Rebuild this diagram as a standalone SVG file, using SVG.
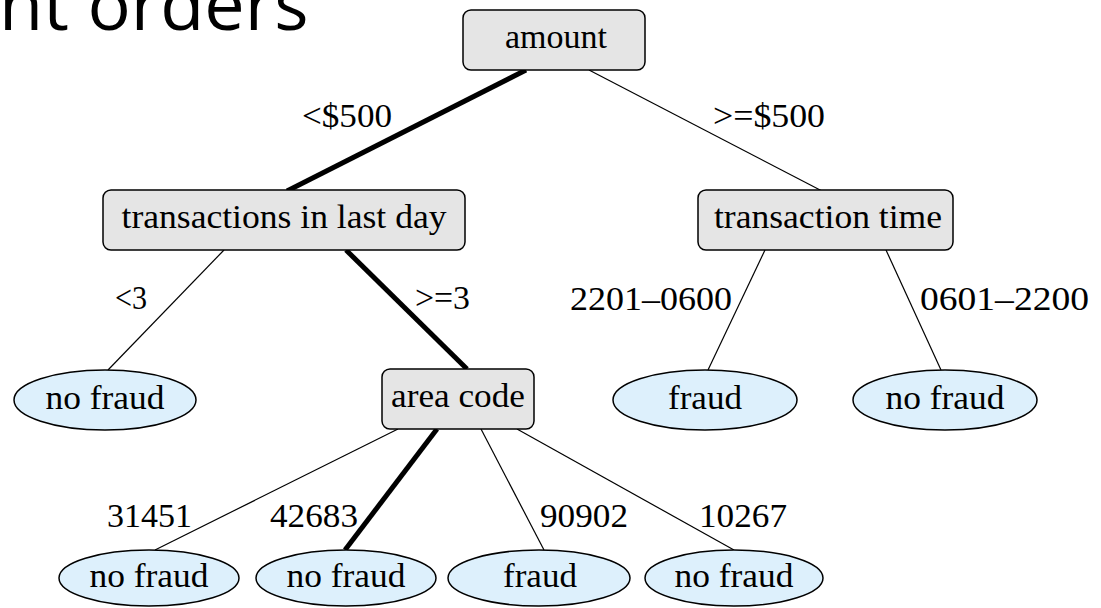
<svg xmlns="http://www.w3.org/2000/svg" width="1101" height="608" viewBox="0 0 1101 608">
<style>
.box{fill:#e5e5e5;stroke:#000;stroke-width:1.5}
.leaf{fill:#ddf0fc;stroke:#000;stroke-width:1.5}
.thin{stroke:#000;stroke-width:1.2;fill:none}
.thick{stroke:#000;stroke-width:5;fill:none}
</style>
<rect width="1101" height="608" fill="#fff"/>
<text x="-1" y="30" font-family="'Open Sans','Liberation Sans',sans-serif" font-size="72" fill="#000">nt orders</text>
<g id="connectors">
<line class="thick" x1="526" y1="70" x2="287" y2="191"/>
<line class="thin" x1="589" y1="70" x2="822" y2="191"/>
<line class="thin" x1="224" y1="250" x2="108" y2="370"/>
<line class="thick" x1="346" y1="250" x2="467" y2="369"/>
<line class="thin" x1="765" y1="250" x2="708" y2="370"/>
<line class="thin" x1="886" y1="250" x2="941" y2="370"/>
<line class="thin" x1="398" y1="429" x2="155" y2="550"/>
<line class="thick" x1="437" y1="429" x2="345" y2="550"/>
<line class="thin" x1="481" y1="429" x2="544" y2="550"/>
<line class="thin" x1="517" y1="429" x2="734" y2="550"/>
</g>
<g font-family="Liberation Serif, DejaVu Serif, serif" font-size="33" fill="#000">
<g id="edge-labels">
<text x="302" y="127" textLength="90" lengthAdjust="spacingAndGlyphs">&lt;$500</text>
<text x="713" y="127" textLength="112" lengthAdjust="spacingAndGlyphs">&gt;=$500</text>
<text x="115" y="309" textLength="32" lengthAdjust="spacingAndGlyphs">&lt;3</text>
<text x="415" y="309" textLength="55" lengthAdjust="spacingAndGlyphs">&gt;=3</text>
<text x="570" y="310" textLength="162" lengthAdjust="spacingAndGlyphs">2201–0600</text>
<text x="920" y="310" textLength="169" lengthAdjust="spacingAndGlyphs">0601–2200</text>
<text x="107" y="527" textLength="85" lengthAdjust="spacingAndGlyphs">31451</text>
<text x="270" y="527" textLength="88" lengthAdjust="spacingAndGlyphs">42683</text>
<text x="540" y="527" textLength="88" lengthAdjust="spacingAndGlyphs">90902</text>
<text x="699" y="527" textLength="88" lengthAdjust="spacingAndGlyphs">10267</text>
</g>
<g id="n-amount">
<rect class="box" x="463" y="10" width="182" height="60" rx="8"/>
<text x="556" y="48" text-anchor="middle" textLength="102" lengthAdjust="spacingAndGlyphs">amount</text>
</g>
<g id="n-transactions">
<rect class="box" x="103" y="190" width="362" height="60" rx="8"/>
<text x="284" y="228" text-anchor="middle" textLength="325" lengthAdjust="spacingAndGlyphs">transactions in last day</text>
</g>
<g id="n-time">
<rect class="box" x="698" y="190" width="255" height="60" rx="8"/>
<text x="828" y="228" text-anchor="middle" textLength="228" lengthAdjust="spacingAndGlyphs">transaction time</text>
</g>
<g id="n-area">
<rect class="box" x="382" y="369" width="152" height="60" rx="8"/>
<text x="458" y="407" text-anchor="middle" textLength="134" lengthAdjust="spacingAndGlyphs">area code</text>
</g>
<g id="l-nofraud1">
<ellipse class="leaf" cx="105" cy="400" rx="91" ry="30"/>
<text x="105" y="409" text-anchor="middle" textLength="119" lengthAdjust="spacingAndGlyphs">no fraud</text>
</g>
<g id="l-fraud1">
<ellipse class="leaf" cx="705" cy="400" rx="92" ry="30"/>
<text x="705" y="409" text-anchor="middle" textLength="74" lengthAdjust="spacingAndGlyphs">fraud</text>
</g>
<g id="l-nofraud2">
<ellipse class="leaf" cx="945" cy="400" rx="92" ry="30"/>
<text x="945" y="409" text-anchor="middle" textLength="119" lengthAdjust="spacingAndGlyphs">no fraud</text>
</g>
<g id="l-nofraud3">
<ellipse class="leaf" cx="149" cy="578" rx="90" ry="28"/>
<text x="149" y="587" text-anchor="middle" textLength="119" lengthAdjust="spacingAndGlyphs">no fraud</text>
</g>
<g id="l-nofraud4">
<ellipse class="leaf" cx="346" cy="578" rx="90" ry="28"/>
<text x="346" y="587" text-anchor="middle" textLength="119" lengthAdjust="spacingAndGlyphs">no fraud</text>
</g>
<g id="l-fraud2">
<ellipse class="leaf" cx="539" cy="578" rx="91" ry="28"/>
<text x="540" y="587" text-anchor="middle" textLength="74" lengthAdjust="spacingAndGlyphs">fraud</text>
</g>
<g id="l-nofraud5">
<ellipse class="leaf" cx="734" cy="578" rx="89" ry="28"/>
<text x="734" y="587" text-anchor="middle" textLength="119" lengthAdjust="spacingAndGlyphs">no fraud</text>
</g>
</g>
</svg>
